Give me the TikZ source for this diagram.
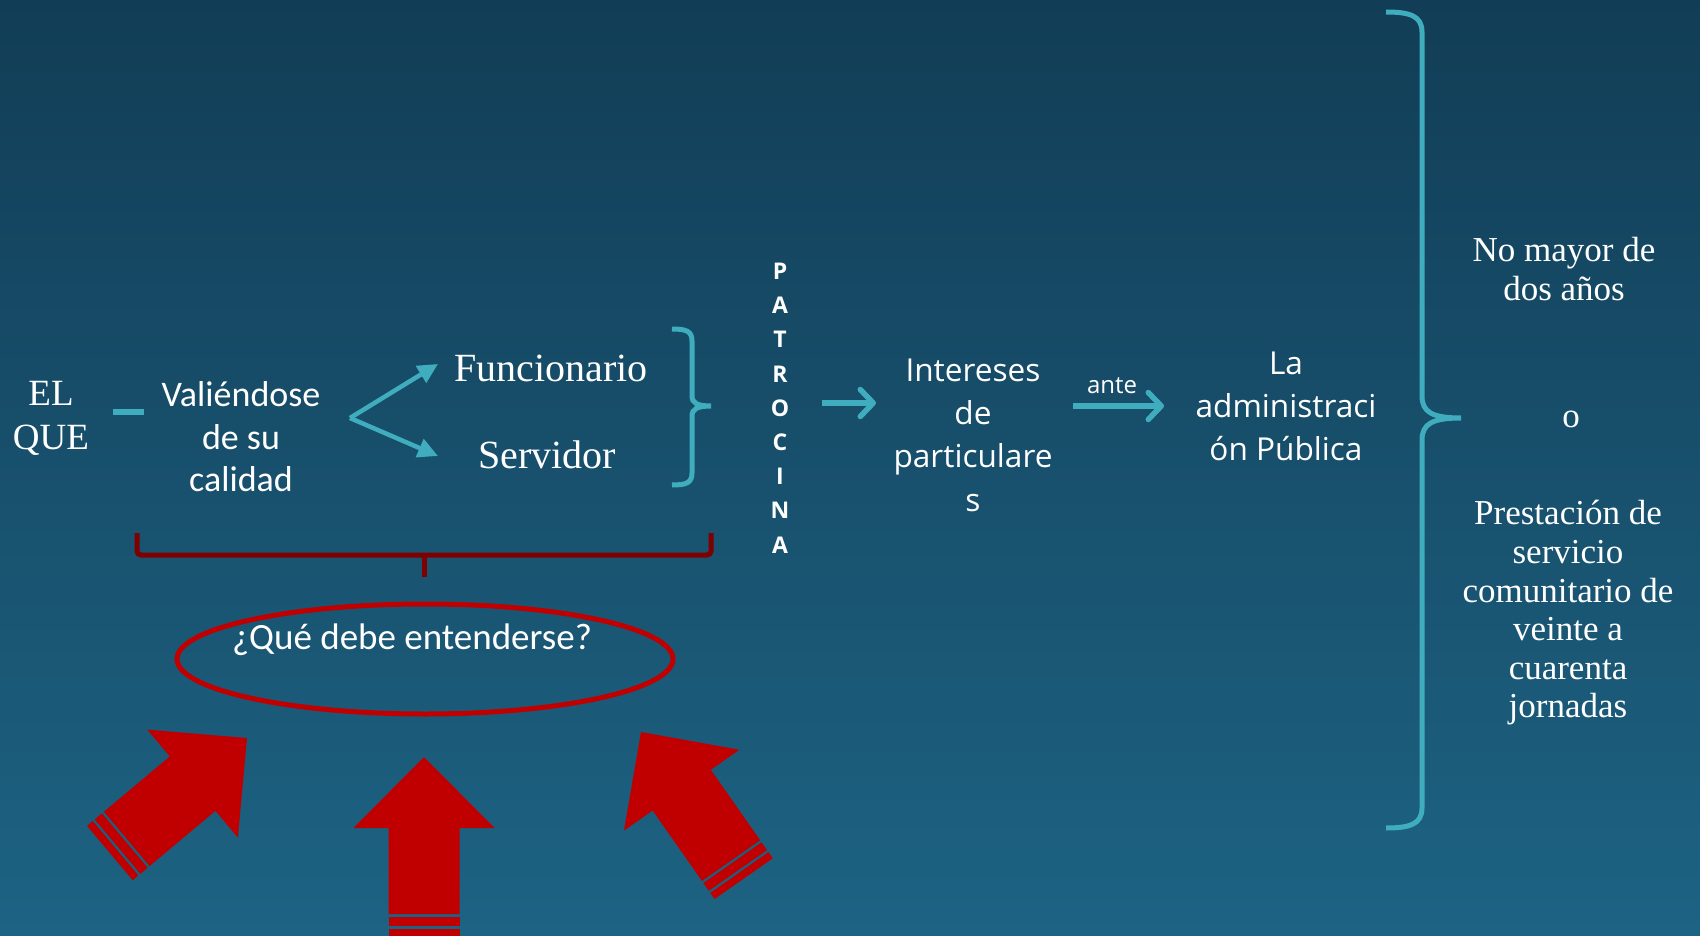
\documentclass[tikz,border=0pt]{standalone}
\usepackage{fontspec}
\setmainfont{Liberation Serif}
\newfontfamily\carl{Carlito}
\newfontfamily\opens{Open Sans}
\usetikzlibrary{arrows.meta,shapes.geometric}
\definecolor{bgtop}{HTML}{123D56}
\definecolor{bgbot}{HTML}{1D6383}
\definecolor{cyanl}{HTML}{40ADBF}
\definecolor{redA}{HTML}{C00000}
\definecolor{redD}{HTML}{7F0000}
\begin{document}
\begin{tikzpicture}[x=1pt,y=-1pt,
  txt/.style={text=white, align=center, inner sep=0pt},
  cy/.style={draw=cyanl, line width=5pt},
  chev/.style={cy, line width=5.5pt, -{Straight Barb[length=13pt,width=27pt,round]}},
  tri/.style={draw=cyanl, line width=4.5pt, -{Triangle[length=20pt,width=19pt]}},
  redarrow/.pic={
    \fill[redA] (0,0) -- (70.5,71) -- (35.5,71) -- (35.5,157) -- (-35.5,157) -- (-35.5,71) -- (-70.5,71) -- cycle;
    \fill[redA] (-35.5,159.5) rectangle (35.5,169);
    \fill[redA] (-35.5,171.5) rectangle (35.5,179);
  }
]
\shade[top color=bgtop, bottom color=bgbot] (0,0) rectangle (1700,936);
\useasboundingbox (0,0) rectangle (1700,936);

% texts
\node[txt, font=\fontsize{37}{44}\selectfont] (elque) at (51,418) {EL\\QUE};
\node[txt, font=\carl\fontsize{36}{42.5}\selectfont] (vals) at (241,437) {Valiéndose\\de su\\calidad};
\node[txt, font=\fontsize{40}{48}\selectfont] (func) at (551,368) {Funcionario};
\node[txt, font=\fontsize{40}{48}\selectfont] (serv) at (547,455) {Servidor};
\node[txt, font=\opens\bfseries\fontsize{23}{34.2}\selectfont] (patro) at (780,408) {P\\A\\T\\R\\O\\C\\I\\N\\A};
\node[txt, font=\opens\fontsize{31.6}{43.3}\selectfont] (inter) at (973,435) {Intereses\\de\\particulare\\s};
\node[txt, font=\opens\fontsize{24}{28}\selectfont] (ante) at (1112,386) {ante};
\node[txt, font=\opens\fontsize{31.6}{43}\selectfont] (admin) at (1286,406) {La\\administraci\\ón Pública};
\node[txt, font=\fontsize{35}{38.5}\selectfont] (nomayor) at (1564,269) {No mayor de\\dos años};
\node[txt, font=\fontsize{35}{38.5}\selectfont] (oo) at (1571,419) {o};
\node[txt, font=\fontsize{35}{38.6}\selectfont] (prest) at (1568,613) {Prestación de\\servicio\\comunitario de\\veinte a\\cuarenta\\jornadas};

% question ellipse
\node[draw=redA, line width=5pt, ellipse, minimum width=496pt, minimum height=110pt, inner sep=0pt] (ell) at (425,659) {};
\node[txt, font=\carl\fontsize{37}{44}\selectfont] (q) at (412,640) {¿Qué debe entenderse?};

% connectors
\coordinate (d1) at (113,412);
\coordinate (d2) at (144,412);
\draw[cy, line width=6pt] (d1) -- (d2);
\coordinate (vtx) at (350,418);
\coordinate (tf) at (438,364);
\coordinate (ts) at (438,456);
\draw[tri] (vtx) -- (tf);
\draw[tri] (vtx) -- (ts);
\coordinate (a1s) at (822,403);
\coordinate (a1e) at (876,403);
\draw[chev] (a1s) -- (a1e);
\coordinate (a2s) at (1073,406);
\coordinate (a2e) at (1164,406);
\draw[chev] (a2s) -- (a2e);

% small cyan brace
\draw[cy] (672,329) .. controls (686,329) and (692,331) .. (692,341) -- (692,396)
  .. controls (692,403) and (697,406) .. (711,406)
  .. controls (697,406) and (692,409) .. (692,416) -- (692,473)
  .. controls (692,483) and (686,485) .. (672,485);

% big cyan brace
\draw[cy] (1386,12) .. controls (1410,12) and (1422,16) .. (1422,32) -- (1422,396)
  .. controls (1422,412) and (1432,418) .. (1461,418)
  .. controls (1432,418) and (1422,424) .. (1422,440) -- (1422,808)
  .. controls (1422,824) and (1410,828) .. (1386,828);

% dark red brace
\draw[redD, line width=5pt, rounded corners=4pt] (137,533) -- (137,555) -- (711,555) -- (711,533);
\draw[redD, line width=5pt] (424,555) -- (424,577);

% red arrows
\pic[rotate=-50] at (247,738) {redarrow};
\pic at (424,757) {redarrow};
\pic[rotate=35] at (641,732) {redarrow};
\end{tikzpicture}
\end{document}
